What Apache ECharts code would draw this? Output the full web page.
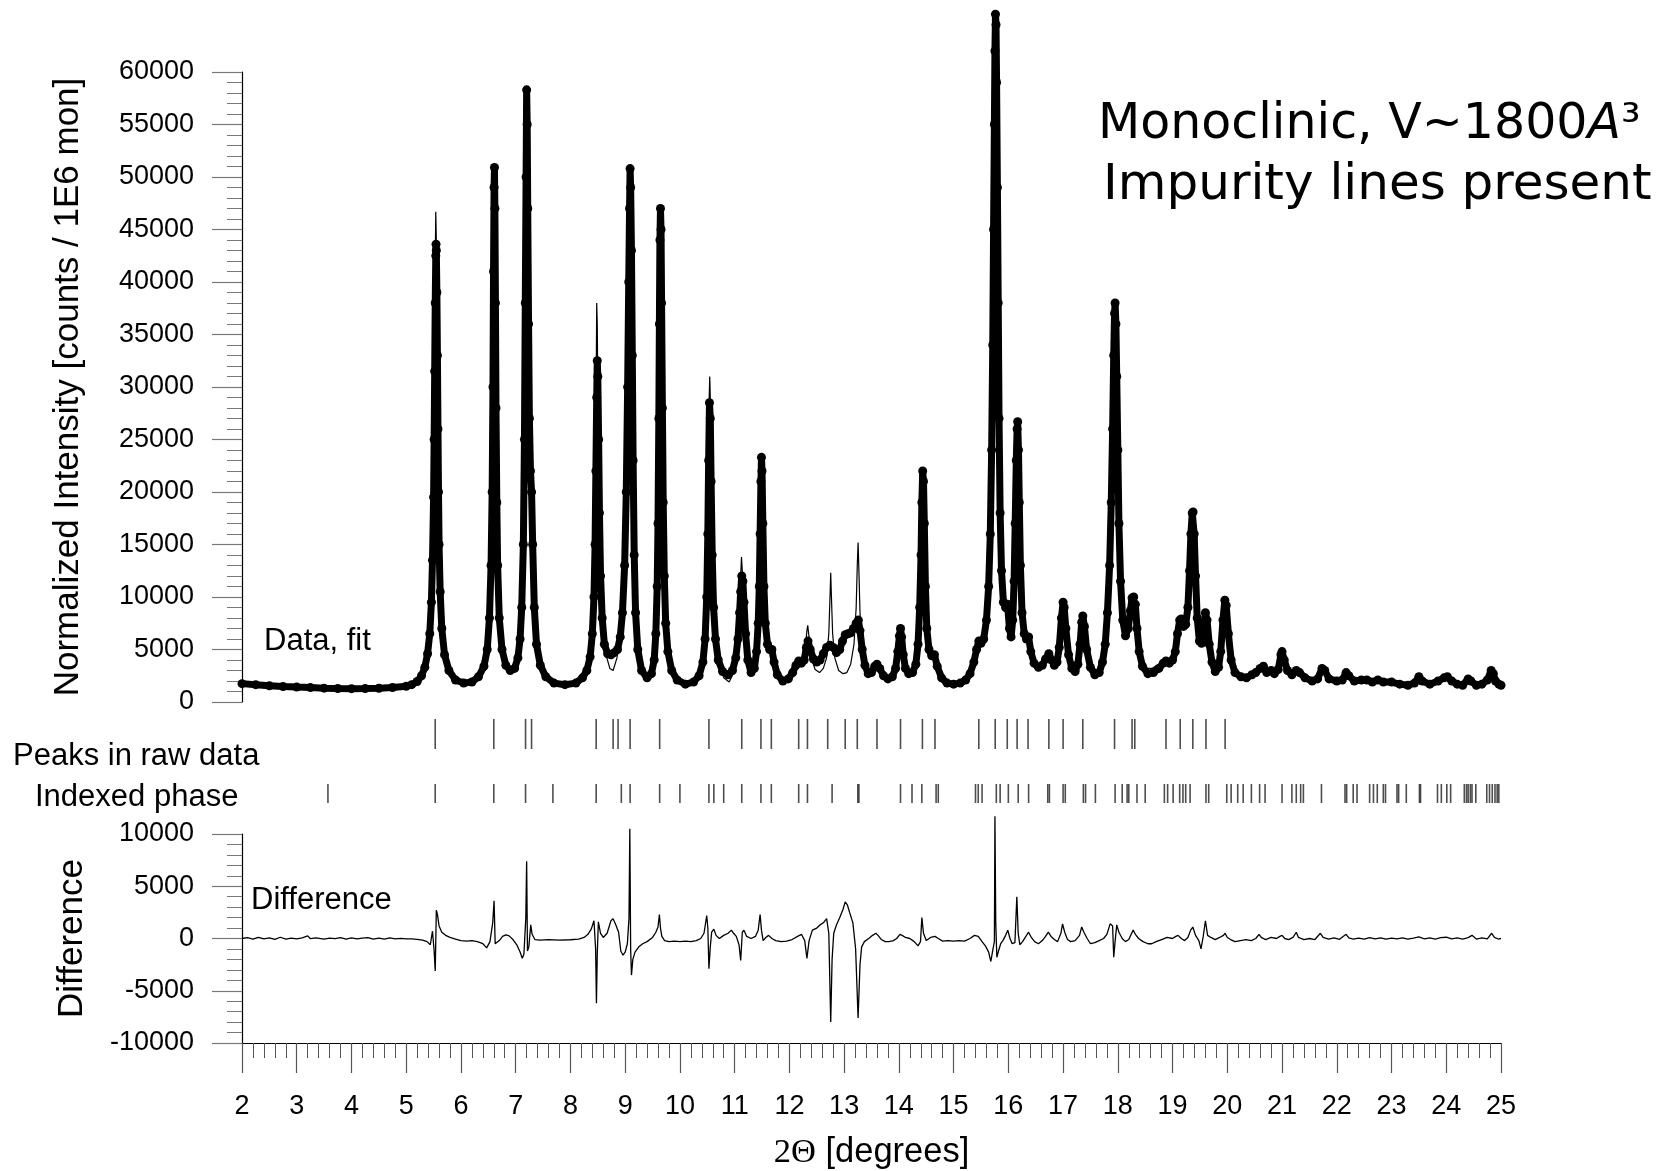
<!DOCTYPE html>
<html>
<head>
<meta charset="utf-8">
<script src="https://cdn.jsdelivr.net/npm/echarts@6/dist/echarts.min.js"></script>
<style>
html,body{margin:0;padding:0;background:#fff;}
#chart{width:1663px;height:1171px;}
</style>
</head>
<body>
<div id="chart"></div>
<script>
// ---------- DATA ----------
const xTickLabels = [2,3,4,5,6,7,8,9,10,11,12,13,14,15,16,17,18,19,20,21,22,23,24,25];

// observed intensity [2theta, counts]
const observed = [
[2.00,1750],[2.25,1650],[2.5,1550],[2.75,1480],[3.0,1420],[3.25,1370],[3.5,1320],[3.75,1290],[4.0,1270],[4.25,1280],[4.5,1310],[4.75,1380],[5.0,1500],[5.1,1650],[5.2,1950],[5.28,2500],[5.34,3300],[5.39,4600],[5.43,6500],[5.46,9500],[5.48,13500],[5.50,19500],[5.51,25000],[5.52,31500],[5.53,38000],[5.54,42500],[5.545,43600],[5.55,43000],[5.56,39000],[5.57,33000],[5.58,26000],[5.59,20000],[5.60,15000],[5.62,10500],[5.65,7000],[5.7,4500],[5.78,3000],[5.9,2100],[6.05,1800],[6.2,1900],[6.32,2400],[6.42,3400],[6.48,5000],[6.52,8000],[6.55,13000],[6.57,20000],[6.585,30000],[6.595,41000],[6.605,49000],[6.612,50900],[6.62,47000],[6.63,38000],[6.64,28000],[6.655,19000],[6.67,13000],[6.7,8000],[6.75,5000],[6.82,3500],[6.9,3000],[6.98,3200],[7.04,4200],[7.08,6000],[7.11,9000],[7.14,15000],[7.16,25000],[7.175,38000],[7.19,50000],[7.2,58300],[7.21,55000],[7.22,47000],[7.235,36000],[7.25,27000],[7.27,22000],[7.29,20000],[7.31,15000],[7.34,9000],[7.38,5500],[7.45,3500],[7.55,2400],[7.7,1800],[7.9,1650],[8.1,1800],[8.22,2300],[8.3,3000],[8.36,4300],[8.4,6500],[8.43,10000],[8.45,15000],[8.465,22000],[8.48,29000],[8.49,32500],[8.5,31000],[8.515,25000],[8.53,18000],[8.55,12000],[8.58,8000],[8.62,5500],[8.68,4600],[8.74,4500],[8.8,4700],[8.86,5000],[8.91,6200],[8.95,8500],[8.99,13000],[9.02,20000],[9.045,30000],[9.065,40000],[9.08,47000],[9.09,50800],[9.1,49000],[9.115,43000],[9.13,33000],[9.145,23000],[9.165,14000],[9.19,8500],[9.23,5000],[9.3,3000],[9.4,2300],[9.48,2700],[9.53,4000],[9.56,6500],[9.585,11000],[9.6,17000],[9.615,27000],[9.625,36000],[9.635,44000],[9.645,47000],[9.655,45000],[9.665,38000],[9.68,28000],[9.695,19000],[9.715,12000],[9.74,7500],[9.78,4800],[9.85,3000],[9.95,2100],[10.1,1700],[10.25,1900],[10.35,2500],[10.42,3800],[10.46,6000],[10.49,10000],[10.51,16000],[10.525,23000],[10.54,28500],[10.555,27000],[10.57,21000],[10.59,14000],[10.615,9000],[10.65,6000],[10.7,4000],[10.78,2900],[10.88,2600],[10.96,3000],[11.02,4200],[11.06,6000],[11.09,8500],[11.11,10500],[11.13,12000],[11.15,11500],[11.17,9500],[11.2,6500],[11.24,4000],[11.3,2800],[11.36,3200],[11.4,4800],[11.43,7500],[11.45,11000],[11.465,16000],[11.48,21000],[11.49,23300],[11.5,22000],[11.515,17000],[11.535,11000],[11.56,7500],[11.6,5500],[11.64,5000],[11.68,5000],[11.72,3800],[11.78,2600],[11.88,2000],[11.98,2200],[12.06,2800],[12.12,3500],[12.17,3900],[12.22,3700],[12.27,4000],[12.31,5200],[12.34,5800],[12.38,5000],[12.44,4100],[12.5,3800],[12.56,4000],[12.62,4600],[12.68,5200],[12.74,5400],[12.8,5200],[12.86,4700],[12.92,5000],[12.97,5800],[13.02,6400],[13.07,6500],[13.12,6600],[13.17,7000],[13.22,7500],[13.26,7800],[13.29,6800],[13.33,5000],[13.38,3500],[13.44,2700],[13.5,2800],[13.56,3400],[13.6,3600],[13.65,3200],[13.72,2500],[13.8,2200],[13.88,2400],[13.94,3200],[13.98,4800],[14.01,6300],[14.03,7000],[14.05,6200],[14.08,4500],[14.12,3200],[14.18,2700],[14.25,2800],[14.31,3600],[14.35,5500],[14.38,9000],[14.405,14000],[14.42,19000],[14.435,22000],[14.45,21000],[14.465,17000],[14.485,11000],[14.51,7000],[14.55,5000],[14.6,4400],[14.65,4500],[14.7,3400],[14.78,2300],[14.88,1800],[15.0,1700],[15.12,1800],[15.22,2100],[15.3,2700],[15.37,3800],[15.42,5000],[15.46,5800],[15.5,5600],[15.55,6000],[15.6,7800],[15.64,11000],[15.67,16000],[15.695,24000],[15.715,34000],[15.73,45000],[15.745,55000],[15.755,62000],[15.765,65500],[15.775,64500],[15.785,59000],[15.8,49000],[15.815,38000],[15.83,27000],[15.85,18000],[15.875,12500],[15.91,9500],[15.95,9000],[15.985,9300],[16.02,7000],[16.05,6200],[16.08,7800],[16.105,11500],[16.125,17000],[16.145,23000],[16.16,26000],[16.17,26700],[16.185,24000],[16.2,19000],[16.22,13000],[16.25,8500],[16.29,6500],[16.33,6000],[16.37,6200],[16.41,4800],[16.47,3700],[16.55,3300],[16.62,3500],[16.68,4100],[16.74,4600],[16.79,4000],[16.84,3500],[16.89,3800],[16.93,5200],[16.97,8000],[17.0,9500],[17.02,9000],[17.05,7000],[17.1,4500],[17.16,3200],[17.22,2900],[17.27,3600],[17.31,5500],[17.34,7600],[17.36,8200],[17.39,7200],[17.43,5000],[17.5,3300],[17.58,2600],[17.66,2800],[17.72,3800],[17.77,5500],[17.81,8500],[17.85,13000],[17.88,19000],[17.905,26000],[17.925,33000],[17.94,37000],[17.95,38000],[17.965,36000],[17.98,31000],[18.0,24000],[18.02,17000],[18.05,11500],[18.09,7800],[18.14,6300],[18.19,7000],[18.23,8700],[18.26,9900],[18.29,10000],[18.32,9300],[18.35,7000],[18.39,4800],[18.45,3400],[18.55,2700],[18.65,2800],[18.75,3200],[18.83,3700],[18.88,3900],[18.94,3700],[19.0,4000],[19.05,4800],[19.09,6500],[19.13,7800],[19.16,7900],[19.2,7200],[19.24,7400],[19.28,9000],[19.31,12500],[19.335,16000],[19.36,18000],[19.375,18100],[19.395,16000],[19.42,12000],[19.45,8000],[19.49,5800],[19.53,5600],[19.57,7200],[19.6,8500],[19.63,7800],[19.67,5500],[19.72,3800],[19.78,2900],[19.84,3300],[19.88,4800],[19.92,7800],[19.955,9700],[19.98,9200],[20.02,6500],[20.07,4000],[20.14,2800],[20.25,2400],[20.35,2300],[20.45,2600],[20.52,2800],[20.6,3200],[20.66,3400],[20.72,2800],[20.8,3000],[20.86,2700],[20.93,3100],[20.98,4500],[21.0,4800],[21.04,4000],[21.1,3000],[21.18,2600],[21.26,3000],[21.32,2800],[21.42,2300],[21.55,2000],[21.65,2200],[21.73,3200],[21.78,3000],[21.86,2200],[22.0,2000],[22.1,2100],[22.17,2800],[22.22,2500],[22.32,2000],[22.45,2100],[22.55,2100],[22.65,1900],[22.75,2100],[22.85,1900],[23.0,1900],[23.15,1700],[23.3,1600],[23.42,1800],[23.5,2400],[23.56,2000],[23.7,1700],[23.85,2000],[23.96,2300],[24.02,2400],[24.1,2000],[24.2,1700],[24.3,1600],[24.4,2200],[24.45,2000],[24.55,1600],[24.65,1700],[24.75,2100],[24.82,3000],[24.86,2700],[24.9,2000],[24.96,1700],[25.0,1600]
];

// fitted profile [2theta, counts]
const fitted = [
[2.0,1750],[2.5,1550],[3.0,1420],[3.5,1320],[4.0,1270],[4.5,1310],[5.0,1500],[5.2,1950],[5.34,3300],[5.43,6800],[5.48,14000],[5.51,27000],[5.53,42000],[5.54,46700],[5.55,44000],[5.56,36000],[5.575,25000],[5.59,17000],[5.61,11000],[5.65,7000],[5.7,4400],[5.8,2900],[6.0,1900],[6.2,2000],[6.35,2700],[6.45,4200],[6.52,8500],[6.56,17000],[6.585,32000],[6.6,44000],[6.61,47300],[6.62,44000],[6.635,33000],[6.655,19000],[6.68,11000],[6.72,6500],[6.8,3800],[6.9,2800],[6.98,3200],[7.05,5500],[7.1,9000],[7.14,17000],[7.165,30000],[7.185,45000],[7.2,50800],[7.21,48000],[7.225,38000],[7.24,28000],[7.26,22000],[7.28,20000],[7.3,16500],[7.33,10000],[7.38,5800],[7.45,3600],[7.55,2400],[7.8,1700],[8.1,1800],[8.3,2800],[8.38,4500],[8.42,8000],[8.45,16000],[8.47,30000],[8.48,38000],[8.49,36000],[8.5,30000],[8.52,20000],[8.55,11000],[8.6,6500],[8.66,4300],[8.72,3200],[8.78,3000],[8.85,4200],[8.92,7500],[8.97,14000],[9.01,23000],[9.05,35000],[9.075,40500],[9.09,40000],[9.1,37000],[9.12,30000],[9.14,22000],[9.17,13000],[9.2,8500],[9.25,5300],[9.32,3300],[9.4,2600],[9.48,2800],[9.53,4000],[9.57,7500],[9.6,15000],[9.62,29000],[9.635,41000],[9.645,44600],[9.655,43000],[9.67,36000],[9.685,26000],[9.705,17000],[9.73,10000],[9.77,5800],[9.85,3200],[10.0,2000],[10.2,1900],[10.35,2600],[10.42,4000],[10.47,7500],[10.5,14000],[10.52,23000],[10.535,29000],[10.545,31000],[10.555,29000],[10.57,22000],[10.59,14000],[10.62,8500],[10.66,5500],[10.72,3500],[10.8,2300],[10.9,1900],[11.0,3000],[11.05,5200],[11.09,9000],[11.11,12000],[11.125,13800],[11.14,12500],[11.16,9500],[11.19,6300],[11.24,3800],[11.3,2700],[11.37,3200],[11.42,5500],[11.45,9500],[11.47,15000],[11.485,20500],[11.495,21000],[11.51,18000],[11.53,12000],[11.56,7500],[11.6,5200],[11.65,4900],[11.7,4300],[11.76,2900],[11.85,2100],[11.95,2200],[12.05,2700],[12.12,3400],[12.17,3800],[12.22,3400],[12.28,4500],[12.32,6800],[12.335,7300],[12.35,6600],[12.4,4200],[12.47,3100],[12.55,2800],[12.62,3200],[12.68,4200],[12.72,6500],[12.745,10500],[12.755,12300],[12.765,10500],[12.79,6500],[12.83,4200],[12.9,3000],[12.98,2700],[13.05,2800],[13.12,3600],[13.18,5500],[13.22,9000],[13.24,13000],[13.255,15200],[13.27,12500],[13.29,8500],[13.32,5500],[13.37,3700],[13.44,2800],[13.5,2700],[13.56,3100],[13.6,3200],[13.66,2900],[13.75,2300],[13.85,2300],[13.94,3200],[13.99,5200],[14.03,6800],[14.06,5800],[14.1,4000],[14.17,2900],[14.25,2900],[14.31,3800],[14.36,6500],[14.4,13000],[14.425,19000],[14.44,20500],[14.455,19000],[14.475,14000],[14.5,8500],[14.54,5500],[14.6,4400],[14.66,4400],[14.72,3200],[14.82,2000],[15.0,1800],[15.2,2100],[15.32,3000],[15.4,4500],[15.46,5600],[15.52,5700],[15.58,7500],[15.63,11500],[15.67,18000],[15.7,28000],[15.725,40000],[15.745,50000],[15.76,53500],[15.775,51000],[15.79,43000],[15.81,32000],[15.83,22000],[15.86,14000],[15.9,10000],[15.95,8500],[15.99,8600],[16.03,7000],[16.07,7800],[16.1,11000],[16.13,17000],[16.155,21500],[16.17,22700],[16.185,21500],[16.21,16500],[16.24,10500],[16.28,7200],[16.33,6000],[16.37,5600],[16.42,4800],[16.5,3800],[16.6,3600],[16.68,4000],[16.74,4100],[16.8,3800],[16.88,3800],[16.94,5000],[16.98,7500],[17.0,8200],[17.03,7500],[17.07,5500],[17.14,3500],[17.22,3000],[17.28,3600],[17.32,5500],[17.35,7000],[17.37,7200],[17.4,6300],[17.45,4500],[17.52,3400],[17.62,3000],[17.7,3500],[17.76,5200],[17.8,8000],[17.85,13500],[17.89,22000],[17.92,32000],[17.94,37500],[17.955,38300],[17.97,36500],[17.99,30000],[18.02,20000],[18.05,12500],[18.09,8300],[18.14,6800],[18.19,7200],[18.23,8500],[18.27,9300],[18.3,9300],[18.33,8500],[18.37,6300],[18.42,4300],[18.5,3200],[18.62,3200],[18.75,3600],[18.85,3700],[18.95,3800],[19.03,4500],[19.09,6300],[19.13,7600],[19.17,7700],[19.22,7300],[19.27,8500],[19.31,12000],[19.345,15800],[19.37,17000],[19.39,16000],[19.42,12500],[19.45,8600],[19.49,6400],[19.53,6000],[19.57,6800],[19.6,7000],[19.64,6800],[19.68,5300],[19.73,3800],[19.8,3000],[19.86,3600],[19.9,5800],[19.94,8800],[19.96,9300],[19.99,8600],[20.03,6300],[20.08,4100],[20.15,2900],[20.3,2400],[20.5,2700],[20.6,3000],[20.7,3000],[20.8,3000],[20.9,3000],[20.97,4200],[21.0,4500],[21.04,3900],[21.12,2900],[21.26,2700],[21.42,2300],[21.6,2100],[21.72,2900],[21.8,2700],[22.0,2000],[22.17,2500],[22.3,2000],[22.55,2100],[22.75,2000],[23.0,1900],[23.3,1650],[23.5,2300],[23.7,1700],[24.0,2300],[24.2,1750],[24.4,2100],[24.6,1650],[24.82,2800],[24.92,1900],[25.0,1650]
];

// difference curve [2theta, counts]
const difference = [
[2.0,0],[2.1,80],[2.2,-60],[2.3,100],[2.4,-40],[2.5,60],[2.6,-80],[2.7,120],[2.8,-50],[2.9,40],[3.0,-30],[3.1,70],[3.2,250],[3.25,-20],[3.35,60],[3.5,-60],[3.6,40],[3.7,-20],[3.8,80],[3.9,-50],[4.0,60],[4.1,-40],[4.2,30],[4.3,90],[4.4,-70],[4.5,30],[4.6,-60],[4.7,50],[4.8,-30],[4.9,20],[5.0,-40],[5.1,-30],[5.2,-80],[5.3,-150],[5.38,-300],[5.44,-600],[5.48,700],[5.51,-1200],[5.53,-3100],[5.55,2700],[5.57,2300],[5.6,1200],[5.65,600],[5.72,300],[5.8,100],[5.9,-50],[6.0,-200],[6.1,-250],[6.2,-200],[6.3,-300],[6.4,-500],[6.47,-900],[6.53,-300],[6.58,1500],[6.605,3600],[6.625,-500],[6.65,-600],[6.7,-200],[6.76,200],[6.82,350],[6.88,250],[6.95,-100],[7.02,-600],[7.08,-1300],[7.12,-1900],[7.15,-1500],[7.185,2000],[7.2,7400],[7.215,-1200],[7.24,-800],[7.275,1300],[7.3,400],[7.35,-100],[7.45,-150],[7.6,-100],[7.8,-150],[8.0,-120],[8.15,-50],[8.25,100],[8.32,400],[8.38,900],[8.43,1700],[8.46,-1000],[8.475,-6200],[8.49,-1500],[8.51,1600],[8.55,500],[8.6,100],[8.67,500],[8.74,1700],[8.78,1900],[8.83,1300],[8.88,600],[8.92,-1200],[8.96,-1600],[9.0,-1300],[9.04,-500],[9.07,2000],[9.085,10500],[9.1,-1000],[9.115,-3500],[9.14,-2000],[9.18,-1300],[9.25,-800],[9.32,-500],[9.4,-300],[9.5,100],[9.56,600],[9.6,1100],[9.625,2300],[9.645,1000],[9.67,200],[9.72,-200],[9.8,-300],[9.9,-250],[10.0,-300],[10.1,-250],[10.2,-300],[10.3,-200],[10.38,0],[10.44,500],[10.49,2200],[10.51,1000],[10.53,-2900],[10.555,-800],[10.58,600],[10.62,900],[10.66,300],[10.72,0],[10.8,300],[10.88,500],[10.94,800],[10.98,500],[11.03,200],[11.08,-600],[11.11,-2100],[11.14,600],[11.17,800],[11.22,200],[11.3,0],[11.38,200],[11.43,800],[11.465,2300],[11.49,800],[11.52,-200],[11.57,100],[11.62,300],[11.68,0],[11.75,-200],[11.85,-300],[11.95,-250],[12.05,-100],[12.15,200],[12.22,400],[12.28,-200],[12.32,-1900],[12.36,-200],[12.42,800],[12.5,1000],[12.56,1300],[12.62,1500],[12.68,1900],[12.72,500],[12.755,-8000],[12.78,-2000],[12.81,500],[12.86,1300],[12.92,2000],[12.98,2800],[13.02,3500],[13.06,3200],[13.1,2500],[13.16,1500],[13.21,-1000],[13.255,-7600],[13.29,-2500],[13.32,-800],[13.37,-300],[13.45,0],[13.52,300],[13.58,500],[13.62,300],[13.68,-100],[13.75,-300],[13.82,-300],[13.9,-200],[13.96,0],[14.02,400],[14.06,300],[14.12,100],[14.2,0],[14.28,-300],[14.35,-700],[14.395,-300],[14.42,2000],[14.45,500],[14.5,-200],[14.58,100],[14.66,200],[14.72,0],[14.8,-250],[14.9,-200],[15.0,-250],[15.1,-200],[15.2,-250],[15.3,0],[15.38,300],[15.45,200],[15.52,-300],[15.58,-700],[15.64,-1300],[15.68,-2200],[15.72,-1000],[15.745,-300],[15.755,11700],[15.77,1500],[15.79,-1800],[15.82,-1200],[15.86,-500],[15.9,-200],[15.95,300],[15.99,800],[16.03,0],[16.07,-500],[16.12,-400],[16.155,4000],[16.18,500],[16.21,-600],[16.26,-300],[16.32,200],[16.37,600],[16.42,100],[16.48,-300],[16.55,-500],[16.62,-200],[16.68,200],[16.73,600],[16.78,200],[16.84,-100],[16.9,-300],[16.96,500],[16.99,1400],[17.03,600],[17.08,-100],[17.14,-300],[17.22,-200],[17.3,300],[17.34,1100],[17.38,600],[17.44,0],[17.5,-500],[17.58,-400],[17.66,-200],[17.74,0],[17.8,400],[17.86,1400],[17.905,1200],[17.925,-1800],[17.95,-300],[17.98,1300],[18.02,600],[18.08,0],[18.14,-300],[18.2,-100],[18.28,800],[18.32,400],[18.38,0],[18.46,-300],[18.55,-500],[18.62,-500],[18.7,-300],[18.8,-100],[18.9,100],[19.0,0],[19.06,200],[19.1,300],[19.16,0],[19.22,-200],[19.28,100],[19.33,800],[19.37,1100],[19.42,300],[19.48,-200],[19.52,-1000],[19.56,200],[19.6,1700],[19.64,300],[19.7,100],[19.78,-100],[19.86,100],[19.93,300],[19.96,500],[20.0,100],[20.06,-100],[20.14,-300],[20.24,-200],[20.34,-100],[20.44,-200],[20.52,0],[20.58,400],[20.62,100],[20.7,-100],[20.8,100],[20.9,0],[20.96,200],[21.0,300],[21.05,0],[21.12,-100],[21.2,100],[21.26,600],[21.3,100],[21.4,-100],[21.5,0],[21.6,-100],[21.7,500],[21.75,100],[21.85,-50],[21.95,60],[22.05,-80],[22.17,400],[22.22,50],[22.3,-60],[22.4,40],[22.5,-50],[22.6,80],[22.7,-40],[22.8,60],[22.9,-70],[23.0,30],[23.1,-40],[23.2,50],[23.3,-60],[23.4,40],[23.5,150],[23.6,-30],[23.7,60],[23.8,-50],[23.9,80],[24.0,120],[24.1,-40],[24.2,50],[24.3,-60],[24.4,80],[24.47,300],[24.55,-50],[24.65,60],[24.75,-30],[24.83,500],[24.88,100],[24.95,-50],[25.0,0]
];

// peak positions found in raw data (2theta)
const rawPeaks = [5.53,6.60,7.18,7.29,8.47,8.78,8.87,9.09,9.63,10.53,11.13,11.48,11.67,12.17,12.33,12.70,13.02,13.24,13.60,14.03,14.43,14.66,15.46,15.76,15.98,16.16,16.36,16.74,17.00,17.36,17.94,18.26,18.31,18.88,19.14,19.37,19.61,19.96];

// reflection positions of the indexed phase (2theta)
const indexedPeaks = [3.57,5.53,6.60,7.18,7.68,8.47,8.93,9.09,9.63,10.00,10.53,10.62,10.80,11.13,11.48,11.67,12.17,12.33,12.78,13.25,13.27,14.03,14.24,14.42,14.68,14.72,15.40,15.45,15.52,15.78,15.85,16.00,16.18,16.37,16.72,16.75,17.00,17.04,17.37,17.41,17.59,17.95,18.08,18.17,18.20,18.35,18.50,18.85,18.91,19.01,19.13,19.19,19.24,19.32,19.61,19.66,19.99,20.07,20.19,20.29,20.44,20.59,20.69,21.00,21.18,21.26,21.34,21.39,21.72,22.15,22.18,22.30,22.37,22.60,22.67,22.74,22.85,22.89,23.10,23.13,23.27,23.51,23.53,23.84,23.91,24.01,24.08,24.33,24.37,24.40,24.44,24.47,24.54,24.74,24.79,24.84,24.89,24.93,24.96];

// ---------- CHART ----------
const FONT = "'Liberation Sans', Arial, sans-serif";
const chart = echarts.init(document.getElementById('chart'), null, {renderer:'canvas'});

const gL = 242, gR = 162;
function hiddenX(i){ return {gridIndex:i, type:'value', min:2, max:25, interval:1, show:false}; }
const yStyle = {
  axisLine:{show:true, lineStyle:{color:'#000', width:1.2}},
  axisTick:{show:true, length:30, lineStyle:{color:'#777', width:1.2}},
  minorTick:{show:true, splitNumber:5, length:15, lineStyle:{color:'#777', width:1}},
  splitLine:{show:false},
  axisLabel:{margin:48, fontSize:27, color:'#000', fontFamily:FONT,
    formatter:function(v){ return String(v); }},
  nameLocation:'middle',
  nameTextStyle:{fontSize:35, color:'#000', fontFamily:FONT}
};

const option = {
  animation:false,
  backgroundColor:'#fff',
  grid:[
    {left:gL, right:gR, top:72, height:630},
    {left:gL, right:gR, top:719, height:30},
    {left:gL, right:gR, top:784, height:19},
    {left:gL, right:gR, top:834, height:209}
  ],
  xAxis:[
    hiddenX(0), hiddenX(1), hiddenX(2),
    {gridIndex:3, type:'value', min:2, max:25, interval:1,
     axisLine:{show:true, onZero:false, lineStyle:{color:'#000', width:1.2}},
     axisTick:{show:true, length:30, lineStyle:{color:'#555', width:1.2}},
     minorTick:{show:true, splitNumber:5, length:15, lineStyle:{color:'#555', width:1}},
     splitLine:{show:false},
     axisLabel:{margin:50, fontSize:27, color:'#000', fontFamily:FONT,
       formatter:function(v){ return xTickLabels.indexOf(v) >= 0 ? String(v) : ''; }},
     name:'{t|2Θ} [degrees]', nameLocation:'middle', nameGap:92,
     nameTextStyle:{fontSize:34.5, color:'#000', fontFamily:FONT,
       rich:{t:{fontSize:34.5, color:'#000', fontFamily:"'Liberation Serif', 'Times New Roman', serif"}}}
    }
  ],
  yAxis:[
    Object.assign({gridIndex:0, type:'value', min:0, max:60000, interval:5000,
      name:'Normalized Intensity [counts / 1E6 mon]', nameGap:156}, yStyle),
    {gridIndex:1, type:'value', min:0, max:1, show:false},
    {gridIndex:2, type:'value', min:0, max:1, show:false},
    Object.assign({gridIndex:3, type:'value', min:-10000, max:10000, interval:5000,
      name:'Difference', nameGap:152}, yStyle)
  ],
  series:[
    {name:'Data', type:'line', xAxisIndex:0, yAxisIndex:0, data:observed,
     symbol:'circle', symbolSize:9, showSymbol:true, showAllSymbol:true, clip:false,
     lineStyle:{color:'#000', width:7}, itemStyle:{color:'#000'}, z:2},
    {name:'Fit', type:'line', xAxisIndex:0, yAxisIndex:0, data:fitted,
     symbol:'none', clip:false, lineStyle:{color:'#000', width:1.2}, z:3},
    {name:'Peaks in raw data', type:'scatter', xAxisIndex:1, yAxisIndex:1,
     data:rawPeaks.map(function(v){return [v,0.5];}),
     symbol:'rect', symbolSize:[1.6,30], itemStyle:{color:'#222'}},
    {name:'Indexed phase', type:'scatter', xAxisIndex:2, yAxisIndex:2,
     data:indexedPeaks.map(function(v){return [v,0.5];}),
     symbol:'rect', symbolSize:[1.6,19], itemStyle:{color:'#222'}},
    {name:'Difference', type:'line', xAxisIndex:3, yAxisIndex:3, data:difference,
     symbol:'none', clip:false, lineStyle:{color:'#000', width:1.3}}
  ],
  graphic:[
    {type:'text', x:264, y:641, style:{text:'Data, fit', font:"31px "+FONT, fill:'#000', verticalAlign:'middle'}},
    {type:'text', x:251, y:900, style:{text:'Difference', font:"31px "+FONT, fill:'#000', verticalAlign:'middle'}},
    {type:'text', x:13, y:756, style:{text:'Peaks in raw data', font:"31px "+FONT, fill:'#000', verticalAlign:'middle'}},
    {type:'text', x:35, y:797, style:{text:'Indexed phase', font:"31px "+FONT, fill:'#000', verticalAlign:'middle'}},
    {type:'text', x:1098, y:125, style:{text:'Monoclinic, V~1800{i|A}³', font:"49px 'Comic Sans MS', 'DejaVu Sans', sans-serif", fill:'#000', verticalAlign:'middle',
      rich:{i:{fontStyle:'italic', fontSize:49, fontFamily:"'DejaVu Sans', sans-serif", fill:'#000'}}}},
    {type:'text', x:1103, y:186, style:{text:'Impurity lines present', font:"50px 'Comic Sans MS', 'DejaVu Sans', sans-serif", fill:'#000', verticalAlign:'middle'}}
  ]
};
chart.setOption(option);
</script>
</body>
</html>
